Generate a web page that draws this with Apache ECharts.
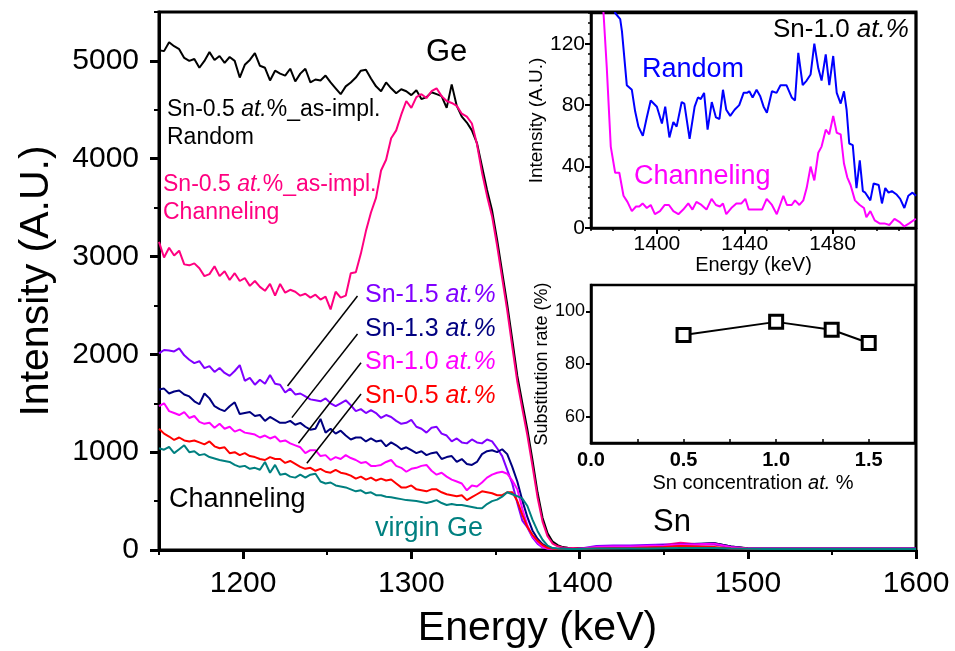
<!DOCTYPE html>
<html>
<head>
<meta charset="utf-8">
<script src="https://cdn.jsdelivr.net/npm/echarts@6/dist/echarts.min.js"></script>
<style>
html, body { margin: 0; padding: 0; background: #fff; }
#chart { width: 955px; height: 651px; }
</style>
</head>
<body>
<div id="chart"></div>
<script>
// main spectra: energy grid (keV)
var energy = [
  1150,1153,1156,1159,1162,1165,1168,1171,1174,1177,
  1180,1183,1186,1189,1192,1195,1198,1201,1204,1207,
  1210,1213,1216,1219,1222,1225,1228,1231,1234,1237,
  1240,1243,1246,1249,1252,1255,1258,1261,1264,1267,
  1270,1273,1276,1279,1282,1285,1288,1291,1294,1297,
  1300,1303,1306,1309,1312,1315,1318,1321,1324,1327,
  1330,1333,1336,1339,1342,1345,1348,1351,1354,1357,
  1360,1363,1366,1369,1372,1375,1378,1381,1384,1387,
  1390,1393,1396,1399,
  1410,1420,1430,1440,1450,1460,1470,1480,1490,1500,
  1510,1520,1530,1540,1550,1560,1570,1580,1590,1600];

var randomImpl = [
  5110,5100,5190,5150,5120,5030,5000,5020,4930,5000,
  5090,5010,5050,4980,5040,5000,4830,4960,5010,5080,
  4950,4930,4800,4900,4870,4850,4920,4790,4870,4920,
  4780,4810,4800,4850,4780,4720,4660,4740,4780,4830,
  4900,4910,4820,4740,4690,4780,4720,4670,4710,4690,
  4650,4700,4610,4630,4680,4660,4640,4520,4760,4540,
  4430,4370,4290,4160,3920,3680,3470,3170,2840,2510,
  2150,1780,1500,1230,920,590,330,170,85,50,
  30,24,20,20,
  22,25,30,35,45,55,60,70,35,18,15,15,15,15,15,15,15,15,15,15];

var channelImpl = [
  3150,2990,3090,3010,3060,2920,2910,2930,2880,2800,
  2820,2900,2800,2850,2760,2830,2750,2780,2700,2750,
  2690,2650,2720,2600,2720,2630,2660,2640,2600,2620,
  2580,2610,2560,2590,2460,2640,2580,2600,2830,2840,
  3030,3260,3450,3600,3880,3990,4210,4290,4450,4590,
  4520,4630,4660,4620,4690,4720,4640,4590,4570,4540,
  4460,4430,4360,4150,3860,3620,3410,3110,2780,2450,
  2080,1720,1440,1170,860,540,290,140,65,38,
  25,20,20,18,
  20,25,30,40,50,75,60,55,30,15,13,12,12,12,12,12,12,12,12,12];

var sn15 = [
  2010,2045,2040,2030,2062,1990,1945,1910,1930,1860,
  1880,1820,1860,1810,1780,1830,1890,1730,1760,1690,
  1740,1700,1790,1700,1690,1610,1650,1590,1600,1570,
  1540,1530,1520,1550,1500,1470,1500,1530,1480,1420,
  1440,1400,1430,1400,1350,1380,1360,1320,1290,1300,
  1330,1260,1240,1200,1250,1260,1190,1170,1110,1140,
  1100,1090,1130,1100,1090,1130,1110,1040,960,820,
  680,480,300,230,130,65,25,14,12,10,
  10,10,10,10,
  40,45,45,50,55,50,55,60,30,15,12,12,12,12,12,12,12,12,12,12];

var sn13 = [
  1640,1650,1600,1620,1630,1590,1570,1520,1490,1600,
  1550,1470,1440,1420,1470,1510,1390,1400,1410,1370,
  1380,1320,1360,1330,1300,1300,1320,1280,1300,1260,
  1230,1240,1340,1200,1240,1190,1220,1170,1130,1150,
  1150,1110,1140,1110,1120,1060,1100,1070,1030,1050,
  1020,990,1010,970,990,1000,930,950,960,900,
  930,880,870,900,980,1010,1020,1000,1030,980,
  850,700,505,335,200,115,60,30,18,14,
  12,12,10,10,
  25,25,30,35,45,55,65,70,35,16,12,12,12,12,12,12,12,12,12,12];

var sn10 = [
  1470,1500,1420,1400,1380,1410,1350,1370,1310,1290,
  1300,1250,1290,1240,1260,1210,1230,1200,1190,1180,
  1150,1170,1140,1160,1110,1120,1090,1070,1050,990,
  1020,1020,960,970,920,950,930,970,940,920,
  890,900,860,860,870,900,920,860,840,800,
  830,840,860,870,810,770,790,750,720,700,
  680,610,660,650,690,740,770,790,800,780,
  710,620,420,250,140,80,30,15,12,10,
  10,10,10,10,
  30,35,35,40,45,55,60,65,30,15,12,12,12,12,12,12,12,12,12,12];

var sn05 = [
  1240,1190,1160,1125,1150,1120,1110,1120,1100,1080,
  1110,1060,1040,1050,990,1000,970,990,960,950,
  930,920,950,930,930,890,910,880,850,830,
  840,810,830,800,790,820,790,780,760,730,
  750,720,740,710,730,710,720,680,640,640,
  660,620,610,600,620,620,590,570,560,550,
  560,510,540,570,600,590,580,560,560,590,
  590,500,360,235,155,95,50,22,14,10,
  10,10,10,10,
  15,18,20,25,30,40,35,30,15,12,10,10,10,10,10,10,10,10,10,10];

var virginGe = [
  1040,1025,1055,990,1030,1070,1000,1010,970,980,
  950,935,920,910,900,870,850,860,830,840,
  820,900,790,870,770,780,750,740,770,740,
  770,780,700,680,690,660,650,640,620,600,
  610,580,590,560,560,545,540,530,520,510,
  505,500,490,480,494,510,480,460,470,460,
  460,450,440,430,426,470,500,515,545,590,
  570,550,525,450,310,195,105,45,20,14,
  12,10,10,10,
  15,15,15,16,18,20,20,20,15,12,10,10,10,10,10,10,10,10,10,10];

// inset: Sn-1.0 at.% Sn region
var insetRandE = [
  1379,1381,1383.3,1384.1,1386.3,1388.6,1390.1,1391.6,1393.6,1395.4,
  1397.2,1400,1402.3,1403.8,1405.7,1407.5,1409,1411.3,1412.5,1414.9,
  1417.2,1418.7,1420,1421.5,1423.1,1425,1426.9,1428.5,1430.1,1431.6,
  1433.4,1435.4,1437.5,1439.5,1441,1442.1,1443.6,1445.4,1447,1448.6,
  1450.1,1452.4,1454.5,1456.3,1459,1461.4,1462.9,1464.4,1466.4,1468.2,
  1470,1471.7,1473.5,1475,1476.9,1478.5,1480.3,1481.9,1483.7,1485.2,
  1486.4,1487.6,1489.2,1490.9,1492.4,1493.8,1494.9,1497.2,1498.7,1501,
  1502.5,1504,1505.5,1507,1509,1510.8,1512.7,1514.5,1516.4,1518];
var insetRandI = [
  160,140,136,128,93,90,76,66,60,72,
  83,79,68,79,59,69,66,82,81,58,
  79,85,84,88,64,82,72,71,90,77,
  73,77,80,88,88,89,85,90,86,79,
  75,89,88,93,93,85,83,114,93,96,
  100,120,104,96,113,93,112,88,81,89,
  77,55,54,26,44,24,23,18,29,28,
  16,26,23,24,22,19,13,21,23,21];

var insetChanE = [
  1374,1375.7,1377.2,1379,1381,1382.9,1384.8,1386.6,1388.6,1390.5,
  1392,1393.5,1395.4,1397.2,1399.1,1401.4,1403.6,1405.5,1407.5,1409.8,
  1412,1414.3,1416.2,1418,1420.3,1422.6,1424.9,1426.9,1428.7,1430.1,
  1431.6,1433.9,1436.2,1438.5,1440.3,1441.8,1443.3,1445.6,1447.9,1450,
  1452.4,1454.6,1456.1,1457.6,1459.2,1461.4,1462.9,1464.9,1466.7,1468.2,
  1470,1471.7,1473.5,1475,1476.9,1478.5,1480.3,1481.9,1483.7,1485.2,
  1486.7,1488.2,1490.2,1492.4,1494.3,1495.4,1497.2,1499.2,1501.4,1503.6,
  1505.9,1508.2,1510.4,1512.7,1514.9,1517.9];
var insetChanI = [
  175,140,104,53,36,36,21,17,11,14,
  14,16,13,15,9,11,15,15,11,9,
  12,16,12,17,15,12,19,15,14,16,
  9,13,16,16,19,12,12,12,12,19,
  15,9,15,21,15,15,18,15,18,26,
  40,31,49,53,64,61,73,62,61,42,
  33,28,18,15,13,7,11,5,3,3,
  2,6,4,1,3,6];

// inset: substitution rate
var snConc = [0.5, 1.0, 1.3, 1.5];
var substRate = [91, 96, 93, 88];

var FONT = "'Liberation Sans', Arial, sans-serif";

function pairs(xs, ys) {
  return xs.map(function (x, i) { return [x, ys[i]]; });
}

function plain(v) { return String(v); }

function spec(name, ys, color) {
  return {
    name: name, type: 'line', xAxisIndex: 0, yAxisIndex: 0,
    data: pairs(energy, ys), showSymbol: false, symbol: 'none',
    lineStyle: { color: color, width: 2 }, itemStyle: { color: color },
    animation: false, silent: true
  };
}

function txt(x, y, parts, size, color) {
  var rich = {
    n: { fontSize: size, fontFamily: FONT, fill: color, color: color },
    i: { fontSize: size, fontFamily: FONT, fontStyle: 'italic', fill: color, color: color }
  };
  return {
    type: 'text', x: x, y: y, silent: true, z: 100,
    style: {
      text: parts, rich: rich, fill: color, fontSize: size, fontFamily: FONT,
      verticalAlign: 'middle', align: 'left'
    }
  };
}

var black = '#000';
var axisTxt = { color: black, fontFamily: FONT };

var chart = echarts.init(document.getElementById('chart'), null, { renderer: 'canvas' });

var randomSeries = spec('random', randomImpl, '#000000');
randomSeries.markLine = {
  silent: true, symbol: ['none', 'none'], animation: false,
  label: { show: false },
  lineStyle: { color: '#000', width: 1.5, type: 'solid' },
  data: [
    [{ coord: [1226.4, 1677] }, { coord: [1268, 2597] }],
    [{ coord: [1229, 1353] }, { coord: [1268, 2209] }],
    [{ coord: [1232.9, 1091] }, { coord: [1270.1, 1915] }],
    [{ coord: [1237.9, 886] }, { coord: [1270.1, 1595] }]
  ]
};

var option = {
  backgroundColor: '#fff',
  animation: false,
  grid: [
    { left: 159, top: 12, width: 757, height: 538, show: true, borderColor: '#000', borderWidth: 3, outerBoundsMode: 'none' },
    { left: 591, top: 13, width: 325, height: 215, show: true, borderColor: '#000', borderWidth: 2.5, backgroundColor: 'rgba(0,0,0,0)', outerBoundsMode: 'none' },
    { left: 591, top: 285, width: 324, height: 158, show: true, borderColor: '#000', borderWidth: 2.5, outerBoundsMode: 'none' }
  ],
  xAxis: [
    {
      gridIndex: 0, type: 'value', min: 1150, max: 1600, position: 'bottom',
      axisLine: { onZero: false, lineStyle: { color: black, width: 3 } },
      axisTick: { customValues: [1200, 1300, 1400, 1500, 1600], length: 9, lineStyle: { width: 3, color: black } },
      axisLabel: Object.assign({ customValues: [1200, 1300, 1400, 1500, 1600], fontSize: 30, margin: 19, formatter: plain }, axisTxt),
      splitLine: { show: false },
      name: 'Energy (keV)', nameLocation: 'middle', nameGap: 58,
      nameTextStyle: { fontSize: 41, color: black, fontFamily: FONT }
    },
    {
      gridIndex: 0, type: 'value', min: 1150, max: 1600, interval: 50, position: 'bottom',
      axisLine: { show: false, onZero: false },
      axisTick: { length: 5, lineStyle: { width: 2, color: black } },
      axisLabel: { show: false }, splitLine: { show: false }
    },
    {
      gridIndex: 1, type: 'value', min: 1370, max: 1518, position: 'bottom',
      axisLine: { onZero: false, lineStyle: { color: black, width: 2.5 } },
      axisTick: { customValues: [1400, 1440, 1480], length: 6, lineStyle: { width: 2, color: black } },
      axisLabel: Object.assign({ customValues: [1400, 1440, 1480], fontSize: 21, margin: 6, formatter: plain }, axisTxt),
      splitLine: { show: false },
      name: 'Energy (keV)', nameLocation: 'middle', nameGap: 24,
      nameTextStyle: { fontSize: 20, color: black, fontFamily: FONT }
    },
    {
      gridIndex: 1, type: 'value', min: 1370, max: 1518, interval: 10, position: 'bottom',
      axisLine: { show: false, onZero: false },
      axisTick: { length: 3, lineStyle: { width: 1.5, color: black } },
      axisLabel: { show: false }, splitLine: { show: false }
    },
    {
      gridIndex: 2, type: 'value', min: 0, max: 1.75, interval: 0.25, position: 'bottom',
      axisLine: { onZero: false, lineStyle: { color: black, width: 2.5 } },
      axisTick: { inside: true, length: 4, lineStyle: { width: 1.5, color: black } },
      axisLabel: Object.assign({
        fontSize: 20, fontWeight: 'bold', margin: 7, showMaxLabel: false,
        formatter: function (v) {
          return Math.abs(v * 2 - Math.round(v * 2)) < 1e-6 ? v.toFixed(1) : '';
        }
      }, axisTxt),
      splitLine: { show: false },
      name: '{n|Sn concentration }{i|at.}{n| %}', nameLocation: 'middle', nameGap: 30,
      nameTextStyle: {
        color: black, fontFamily: FONT, fontSize: 20,
        rich: {
          n: { fontSize: 20, fontFamily: FONT, color: black },
          i: { fontSize: 20, fontFamily: FONT, color: black, fontStyle: 'italic' }
        }
      }
    }
  ],
  yAxis: [
    {
      gridIndex: 0, type: 'value', min: 0, max: 5500, position: 'left',
      axisLine: { onZero: false, lineStyle: { color: black, width: 3 } },
      axisTick: { customValues: [0, 1000, 2000, 3000, 4000, 5000], length: 9, lineStyle: { width: 3, color: black } },
      axisLabel: Object.assign({ customValues: [0, 1000, 2000, 3000, 4000, 5000], fontSize: 30, margin: 20, formatter: plain }, axisTxt),
      splitLine: { show: false },
      name: 'Intensity (A.U.)', nameLocation: 'middle', nameGap: 102,
      nameTextStyle: { fontSize: 41, color: black, fontFamily: FONT }
    },
    {
      gridIndex: 0, type: 'value', min: 0, max: 5500, interval: 500, position: 'left',
      axisLine: { show: false, onZero: false },
      axisTick: { length: 5, lineStyle: { width: 2, color: black } },
      axisLabel: { show: false }, splitLine: { show: false }
    },
    {
      gridIndex: 1, type: 'value', min: 0, max: 140, position: 'left',
      axisLine: { onZero: false, lineStyle: { color: black, width: 2.5 } },
      axisTick: { customValues: [0, 40, 80, 120], length: 6, lineStyle: { width: 2, color: black } },
      axisLabel: Object.assign({ customValues: [0, 40, 80, 120], fontSize: 21, margin: 6, formatter: plain }, axisTxt),
      splitLine: { show: false },
      name: 'Intensity (A.U.)', nameLocation: 'middle', nameGap: 38,
      nameTextStyle: { fontSize: 19, color: black, fontFamily: FONT }
    },
    {
      gridIndex: 1, type: 'value', min: 0, max: 140, interval: 40 / 6, position: 'left',
      axisLine: { show: false, onZero: false },
      axisTick: { length: 3, lineStyle: { width: 1.5, color: black } },
      axisLabel: { show: false }, splitLine: { show: false }
    },
    {
      gridIndex: 2, type: 'value', min: 50, max: 110, position: 'left',
      axisLine: { onZero: false, lineStyle: { color: black, width: 2.5 } },
      axisTick: { customValues: [60, 80, 100], length: 5, lineStyle: { width: 2, color: black } },
      axisLabel: Object.assign({ customValues: [60, 80, 100], fontSize: 18, margin: 6, formatter: plain }, axisTxt),
      splitLine: { show: false },
      name: 'Substitution rate (%)', nameLocation: 'middle', nameGap: 35,
      nameTextStyle: { fontSize: 18, color: black, fontFamily: FONT }
    }
  ],
  series: [
    randomSeries,
    spec('channel', channelImpl, '#ff0080'),
    spec('Sn-1.5', sn15, '#8000ff'),
    spec('Sn-1.3', sn13, '#000080'),
    spec('Sn-1.0', sn10, '#ff00ff'),
    spec('Sn-0.5', sn05, '#ff0000'),
    spec('virgin', virginGe, '#008080'),
    {
      name: 'inset random', type: 'line', xAxisIndex: 2, yAxisIndex: 2,
      data: pairs(insetRandE, insetRandI), showSymbol: false, symbol: 'none', clip: true,
      lineStyle: { color: '#0000ff', width: 2 }, silent: true
    },
    {
      name: 'inset channel', type: 'line', xAxisIndex: 2, yAxisIndex: 2,
      data: pairs(insetChanE, insetChanI), showSymbol: false, symbol: 'none', clip: true,
      lineStyle: { color: '#ff00ff', width: 2 }, silent: true
    },
    {
      name: 'substitution', type: 'line', xAxisIndex: 4, yAxisIndex: 4,
      data: pairs(snConc, substRate), symbol: 'rect', symbolSize: 13, showSymbol: true,
      lineStyle: { color: '#000', width: 2 },
      itemStyle: { color: '#fff', borderColor: '#000', borderWidth: 3 }, silent: true
    }
  ],
  graphic: [
    txt(426, 52, '{n|Ge}', 31, '#000'),
    txt(167, 110, '{n|Sn-0.5 }{i|at.}{n|%_as-impl.}', 23, '#000'),
    txt(167, 138, '{n|Random}', 23, '#000'),
    txt(163, 185, '{n|Sn-0.5 }{i|at.}{n|%_as-impl.}', 23, '#ff0080'),
    txt(163, 213, '{n|Channeling}', 23, '#ff0080'),
    txt(365, 295, '{n|Sn-1.5 }{i|at.%}', 25, '#8000ff'),
    txt(365, 329, '{n|Sn-1.3 }{i|at.%}', 25, '#000080'),
    txt(365, 362, '{n|Sn-1.0 }{i|at.%}', 25, '#ff00ff'),
    txt(365, 396, '{n|Sn-0.5 }{i|at.%}', 25, '#ff0000'),
    txt(169, 500, '{n|Channeling}', 27, '#000'),
    txt(375, 529, '{n|virgin Ge}', 27, '#008080'),
    txt(653, 522, '{n|Sn}', 31, '#000'),
    txt(773, 30, '{n|Sn-1.0 }{i|at.%}', 26, '#000'),
    txt(642, 70, '{n|Random}', 27, '#0000ff'),
    txt(634, 177, '{n|Channeling}', 27, '#ff00ff')
  ]
};

chart.setOption(option);
</script>
</body>
</html>
